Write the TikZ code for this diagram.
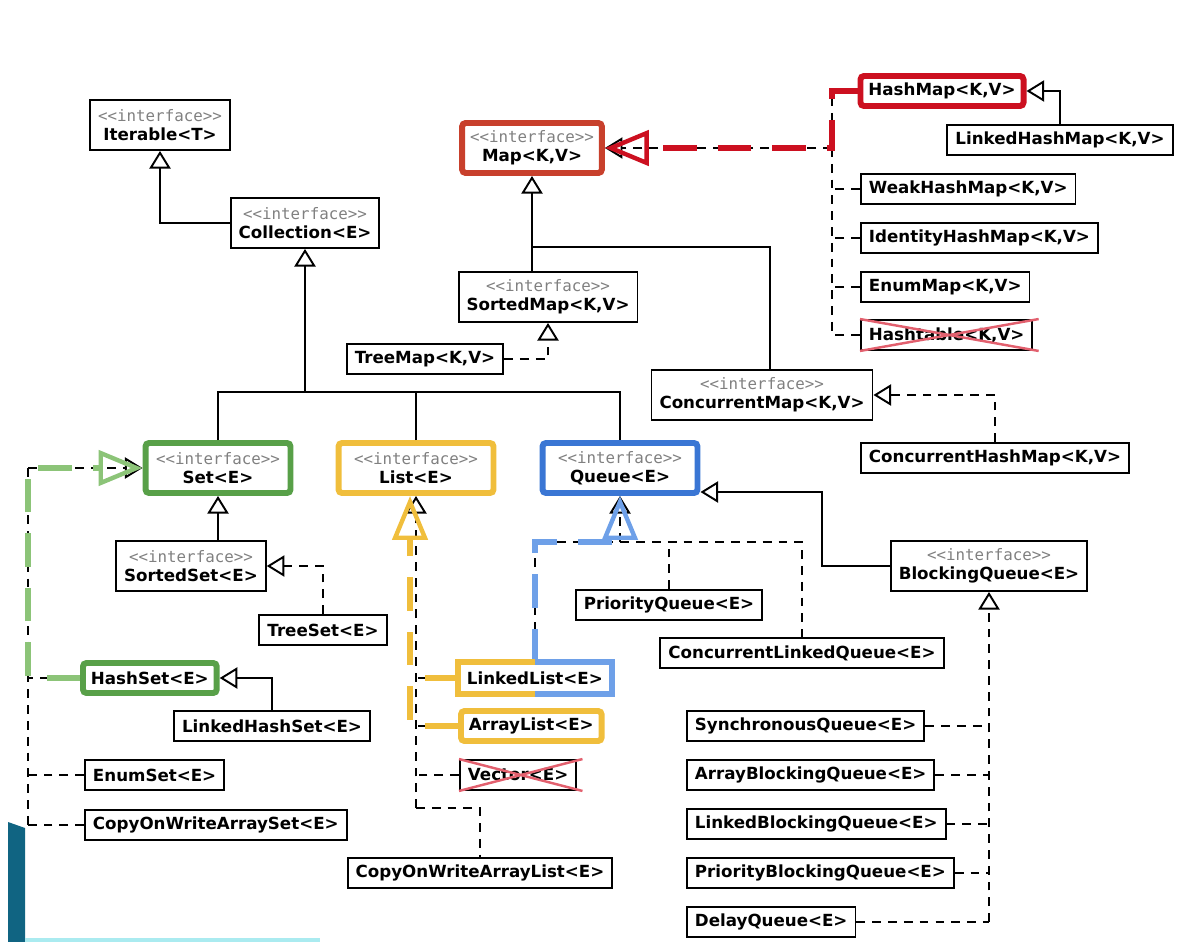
\documentclass[tikz,border=0pt]{standalone}
\usepackage{fontspec}
\setmainfont{DejaVu Sans}
\setmonofont{DejaVu Sans Mono}
\usepackage{tikz}
\usetikzlibrary{arrows.meta}

\definecolor{mapred}{RGB}{200,64,44}
\definecolor{hmred}{RGB}{204,16,32}
\definecolor{setgreen}{RGB}{88,160,72}
\definecolor{lightgreen}{RGB}{140,196,120}
\definecolor{listyellow}{RGB}{240,190,60}
\definecolor{queueblue}{RGB}{58,118,212}
\definecolor{lightblue}{RGB}{110,160,232}
\definecolor{crossred}{RGB}{226,96,110}
\definecolor{slideteal}{RGB}{16,100,130}
\definecolor{slidecyan}{RGB}{170,235,240}

\newcommand{\stereo}[1]{{\mdseries\ttfamily\fontsize{9}{11}\selectfont\color{gray}<{}<interface>{}>}\\#1}

\begin{document}
\begin{tikzpicture}[x=0.02cm,y=-0.02cm,
    font=\fontsize{9.5}{11}\selectfont\bfseries,
    cls/.style={draw,line width=1.1pt,minimum height=0.6cm,inner xsep=0.16cm,inner ysep=0pt},
    iface/.style={cls,minimum height=1cm,align=center},
    boldbox/.style={draw=#1,line width=3.4pt,rounded corners=2pt},
    inh/.style={line width=1.1pt,-{Triangle[open,length=10pt,width=12pt]}},
    impl/.style={inh,dash pattern=on 5pt off 4pt},
    tick/.style={line width=1.1pt,dash pattern=on 5pt off 4pt},
    hl/.style={line width=3.5pt,dash pattern=on 19pt off 12pt,
      -{Triangle[open,length=25pt,width=20pt,line width=2.5pt]}},
    xline/.style={crossred,line width=1.4pt}]

    \useasboundingbox (0,0) rectangle (1196,942);

    % Slide edge
    \fill[slideteal] (8,822) -- (25,828) -- (25,942) -- (8,942) -- cycle;
    \fill[slidecyan] (25,938) rectangle (320,942);

    % Interfaces
    \node[iface] (iterable) at (160,125) {\stereo{Iterable<T>}};
    \node[iface] (collection) at (305,223) {\stereo{Collection<E>}};
    \node[iface,boldbox=mapred] (map) at (532,148) {\stereo{Map<K,V>}};
    \node[iface] (sortedmap) at (548,297) {\stereo{SortedMap<K,V>}};
    \node[iface] (concurrentmap) at (762,395) {\stereo{ConcurrentMap<K,V>}};
    \node[iface,boldbox=setgreen,minimum width=2.9cm] (set) at (218,468) {\stereo{Set<E>}};
    \node[iface,boldbox=listyellow,minimum width=3.1cm] (list) at (416,468) {\stereo{List<E>}};
    \node[iface,boldbox=queueblue,minimum width=3.1cm] (queue) at (620,468) {\stereo{Queue<E>}};
    \node[iface] (sortedset) at (191,566) {\stereo{SortedSet<E>}};
    \node[iface] (blockingqueue) at (989,566) {\stereo{BlockingQueue<E>}};

    % Map classes
    \node[cls] (treemap) at (425,359) {TreeMap<K,V>};
    \node[cls,boldbox=hmred] (hashmap) at (942,91) {HashMap<K,V>};
    \node[cls] (linkedhashmap) at (1060,140) {LinkedHashMap<K,V>};
    \node[cls,anchor=west] (weakhashmap) at (860,189) {WeakHashMap<K,V>};
    \node[cls,anchor=west] (identityhashmap) at (860,238) {IdentityHashMap<K,V>};
    \node[cls,anchor=west] (enummap) at (860,287) {EnumMap<K,V>};
    \node[cls,anchor=west] (hashtable) at (860,335) {Hashtable<K,V>};
    \node[cls] (concurrenthashmap) at (995,458) {ConcurrentHashMap<K,V>};

    % Set classes
    \node[cls] (treeset) at (323,630) {TreeSet<E>};
    \node[cls,anchor=west,boldbox=setgreen] (hashset) at (80,678) {HashSet<E>};
    \node[cls] (linkedhashset) at (272,726) {LinkedHashSet<E>};
    \node[cls,anchor=west] (enumset) at (84,775) {EnumSet<E>};
    \node[cls,anchor=west] (copyonwritearrayset) at (84,825) {CopyOnWriteArraySet<E>};

    % List classes
    \node[cls,anchor=west] (linkedlist) at (458,678) {LinkedList<E>};
    \node[cls,anchor=west,boldbox=listyellow] (arraylist) at (458,726) {ArrayList<E>};
    \node[cls,anchor=west] (vector) at (459,775) {Vector<E>};
    \node[cls] (copyonwritearraylist) at (480,873) {CopyOnWriteArrayList<E>};

    % Queue classes
    \node[cls] (priorityqueue) at (669,605) {PriorityQueue<E>};
    \node[cls] (concurrentlinkedqueue) at (802,653) {ConcurrentLinkedQueue<E>};
    \node[cls,anchor=west] (synchronousqueue) at (686,726) {SynchronousQueue<E>};
    \node[cls,anchor=west] (arrayblockingqueue) at (686,775) {ArrayBlockingQueue<E>};
    \node[cls,anchor=west] (linkedblockingqueue) at (686,824) {LinkedBlockingQueue<E>};
    \node[cls,anchor=west] (priorityblockingqueue) at (686,873) {PriorityBlockingQueue<E>};
    \node[cls,anchor=west] (delayqueue) at (686,922) {DelayQueue<E>};

    % Collection tree
    \draw[inh] (collection.west) -| (iterable.south);
    \coordinate (colbar) at (305,392);
    \draw[inh] (colbar) -- (collection.south);
    \draw[line width=1.1pt] (set.north) |- (colbar) -| (queue.north);
    \draw[line width=1.1pt] (list.north) -- (list.north |- colbar);

    % Map tree
    \draw[inh] (map.south |- sortedmap.north) -- (map.south);
    \coordinate (mapbar) at (532,247);
    \draw[line width=1.1pt] (mapbar) -| ([xshift=4.5pt]concurrentmap.north);
    \draw[impl] (treemap.east) -| (sortedmap.south);
    \coordinate (mapspine) at (832,148);
    \draw[impl] (mapspine) -- (map.east);
    \draw[tick] (hashmap.west) -| (mapspine);
    \draw[tick] (mapspine) -- (mapspine |- hashtable.west);
    \foreach \n in {weakhashmap,identityhashmap,enummap,hashtable}
        \draw[tick] (\n.west) -- (mapspine |- \n.west);
    \draw[inh] (linkedhashmap.north) |- (hashmap.east);
    \draw[impl] (concurrenthashmap.north) |- (concurrentmap.east);

    % Set tree
    \draw[inh] (set.south |- sortedset.north) -- (set.south);
    \draw[impl] (treeset.north) |- (sortedset.east);
    \coordinate (setspine) at (28,468);
    \draw[impl] (setspine) -- (set.west);
    \draw[tick] (setspine) -- (setspine |- copyonwritearrayset.west);
    \foreach \n in {hashset,enumset,copyonwritearrayset}
        \draw[tick] (\n.west) -- (setspine |- \n.west);
    \draw[inh] (linkedhashset.north) |- (hashset.east);

    % List tree
    \coordinate (listspine) at (416,808);
    \draw[impl] (listspine) -- (list.south);
    \foreach \n in {linkedlist,arraylist,vector}
        \draw[tick] (\n.west) -- (listspine |- \n.west);
    \draw[tick] (listspine) -| (copyonwritearraylist.north);

    % Queue tree
    \coordinate (qbar) at (620,542);
    \draw[impl] (qbar) -- (queue.south);
    \draw[tick] (linkedlist.north) |- (qbar) -| (concurrentlinkedqueue.north);
    \draw[tick] (priorityqueue.north) -- (priorityqueue.north |- qbar);
    \coordinate (bqbend) at (822,492);
    \draw[inh] (blockingqueue.west) -| (bqbend) -- (bqbend -| queue.east);
    \draw[impl] (blockingqueue.south |- delayqueue.east) -- (blockingqueue.south);
    \foreach \n in {synchronousqueue,arrayblockingqueue,linkedblockingqueue,priorityblockingqueue,delayqueue}
        \draw[tick] (\n.east) -- (\n.east -| blockingqueue.south);

    % Highlights
    \draw[hl,hmred] (hashmap.west) -| (mapspine) -- (map.east);
    \draw[hl,lightgreen] (hashset.west) -| (setspine) -- (set.west);
    \coordinate (ylist) at ([xshift=-3.4pt]list.south);
    \draw[hl,listyellow] (arraylist.west) -| (ylist);
    \draw[hl,listyellow,-] (linkedlist.west) -- (linkedlist.west -| ylist);
    \draw[hl,lightblue] (linkedlist.north) |- (qbar) -- (queue.south);
    \draw[listyellow,line width=3.4pt] (linkedlist.north) -| (linkedlist.south west) -- (linkedlist.south);
    \draw[lightblue,line width=3.4pt] (linkedlist.north) -| (linkedlist.south east) -- (linkedlist.south);

    % Cross out old classes
    \draw[xline] (hashtable.north west) -- ([xshift=3pt]hashtable.south east);
    \draw[xline] (hashtable.south west) -- ([xshift=3pt]hashtable.north east);
    \draw[xline] (vector.north west) -- ([xshift=3pt]vector.south east);
    \draw[xline] (vector.south west) -- ([xshift=3pt]vector.north east);
\end{tikzpicture}
\end{document}
